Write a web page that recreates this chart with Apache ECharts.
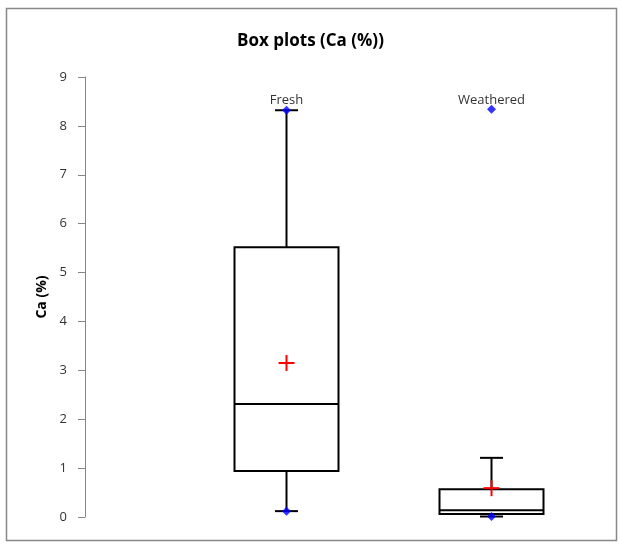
<!DOCTYPE html>
<html>
<head>
<meta charset="utf-8">
<script src="https://cdn.jsdelivr.net/npm/echarts@6/dist/echarts.min.js"></script>
<style>html,body{margin:0;padding:0;background:#fff}#c{width:621px;height:545px}</style>
</head>
<body>
<div id="c"></div>
<script>
const categories = ['Fresh', 'Weathered'];
const whiskerLow = [0.12, 0.01];
const q1 = [0.94, 0.06];
const median = [2.31, 0.14];
const q3 = [5.52, 0.57];
const whiskerHigh = [8.32, 1.21];
const meanValues = [3.15, 0.59];
const minValues = [0.12, 0.01];
const maxValues = [8.32, 8.34];
const yTicks = [0, 1, 2, 3, 4, 5, 6, 7, 8, 9];

const FONT = '"Open Sans", sans-serif';
const chart = echarts.init(document.getElementById('c'), null, {renderer: 'canvas'});

const boxData = categories.map((c, i) => [i, whiskerLow[i], q1[i], median[i], q3[i], whiskerHigh[i], meanValues[i]]);
const pointData = [];
categories.forEach((c, i) => { pointData.push([i, minValues[i]]); pointData.push([i, maxValues[i]]); });

function renderBox(params, api) {
  const x = api.value(0);
  const pLow = api.coord([x, api.value(1)]);
  const pQ1 = api.coord([x, api.value(2)]);
  const pMed = api.coord([x, api.value(3)]);
  const pQ3 = api.coord([x, api.value(4)]);
  const pHigh = api.coord([x, api.value(5)]);
  const pMean = api.coord([x, api.value(6)]);
  const cx = pQ1[0];
  const hw = 52, cap = 11.5, cr = 8;
  const st = {stroke: '#000', lineWidth: 2, fill: null};
  return {
    type: 'group',
    children: [
      {type: 'line', shape: {x1: cx, y1: pQ3[1], x2: cx, y2: pHigh[1]}, style: st},
      {type: 'line', shape: {x1: cx - cap, y1: pHigh[1], x2: cx + cap, y2: pHigh[1]}, style: st},
      {type: 'line', shape: {x1: cx, y1: pQ1[1], x2: cx, y2: pLow[1]}, style: st},
      {type: 'line', shape: {x1: cx - cap, y1: pLow[1], x2: cx + cap, y2: pLow[1]}, style: st},
      {type: 'rect', shape: {x: cx - hw, y: pQ3[1], width: hw * 2, height: pQ1[1] - pQ3[1]}, style: {stroke: '#000', lineWidth: 2, fill: '#fff'}},
      {type: 'line', shape: {x1: cx - hw, y1: pMed[1], x2: cx + hw, y2: pMed[1]}, style: st},
      {type: 'line', shape: {x1: cx - cr, y1: pMean[1], x2: cx + cr, y2: pMean[1]}, style: {stroke: '#ff0000', lineWidth: 2}},
      {type: 'line', shape: {x1: cx, y1: pMean[1] - cr, x2: cx, y2: pMean[1] + cr}, style: {stroke: '#ff0000', lineWidth: 2}}
    ]
  };
}

chart.setOption({
  animation: false,
  backgroundColor: '#fff',
  title: {
    text: 'Box plots (Ca (%))', left: 'center', top: 28,
    textStyle: {fontFamily: FONT, fontSize: 17, fontWeight: 'bold', color: '#000'}
  },
  graphic: [{
    type: 'rect', shape: {x: 6.5, y: 8.5, width: 610, height: 532},
    style: {stroke: '#888', lineWidth: 1.5, fill: null}, silent: true, z: -1
  }],
  grid: {left: 184, right: 27, top: 77, bottom: 28},
  xAxis: {
    type: 'category', data: categories, position: 'top', boundaryGap: true,
    axisLine: {show: false}, axisTick: {show: false}, splitLine: {show: false},
    axisLabel: {inside: true, margin: 17, fontFamily: FONT, fontSize: 13, color: '#333'}
  },
  yAxis: {
    type: 'value', min: 0, max: 9, interval: 1, offset: 99,
    name: 'Ca (%)', nameLocation: 'middle', nameGap: 28,
    nameTextStyle: {fontFamily: FONT, fontSize: 14, fontWeight: 'bold', color: '#000'},
    axisLine: {show: true, lineStyle: {color: '#868686', width: 1}},
    axisTick: {show: true, length: 7, lineStyle: {color: '#868686'}},
    splitLine: {show: false},
    axisLabel: {margin: 18, fontFamily: FONT, fontSize: 13, color: '#333',
      formatter: v => yTicks.includes(v) ? String(v) : ''}
  },
  series: [
    {type: 'custom', renderItem: renderBox, data: boxData, encode: {x: 0, y: [1, 2, 3, 4, 5, 6]}, z: 2},
    {type: 'scatter', data: pointData, symbol: 'diamond', symbolSize: 9, itemStyle: {color: '#0000ff'}, z: 5}
  ]
});
</script>
</body>
</html>
